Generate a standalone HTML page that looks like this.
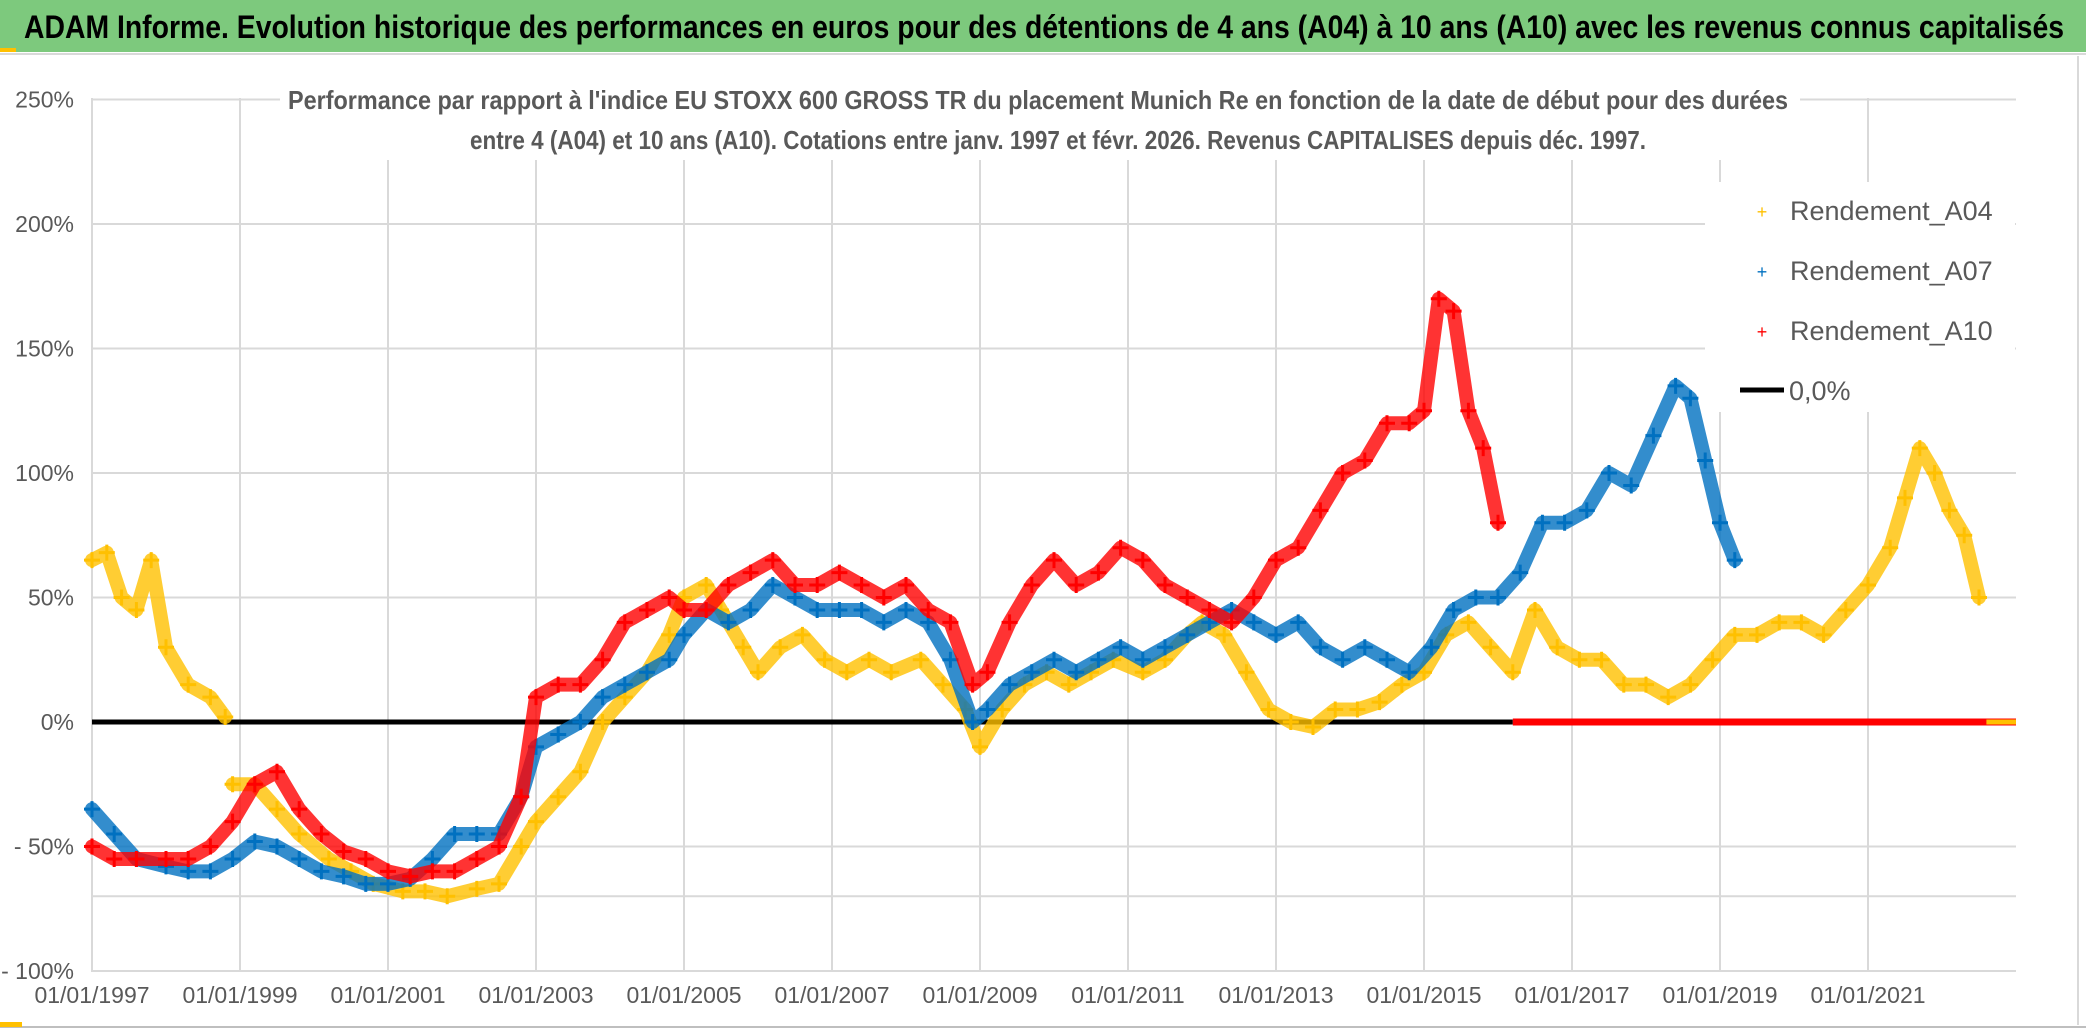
<!DOCTYPE html>
<html><head><meta charset="utf-8">
<style>
html,body{margin:0;padding:0;background:#fff;}
body{width:2086px;height:1031px;overflow:hidden;font-family:"Liberation Sans Narrow","Liberation Sans",sans-serif;}
</style></head>
<body>
<svg id="chart" width="2086" height="1031" xmlns="http://www.w3.org/2000/svg" style="position:absolute;left:0;top:0">
<rect x="0" y="0" width="2086" height="52" fill="#7dc97d"/>
<rect x="0" y="48" width="16" height="4" fill="#ffc000"/>
<line x1="0" y1="54" x2="2086" y2="54" stroke="#d9d9d9" stroke-width="2"/>
<text x="1044" y="38" text-anchor="middle" font-size="32" font-weight="bold" fill="#000" textLength="2040" lengthAdjust="spacingAndGlyphs">ADAM Informe. Evolution historique des performances en euros pour des détentions de 4 ans (A04) à 10 ans (A10) avec les revenus connus capitalisés</text>
<line x1="2078" y1="56" x2="2078" y2="1025" stroke="#d9d9d9" stroke-width="2"/>
<line x1="0" y1="1027" x2="2086" y2="1027" stroke="#bfbfbf" stroke-width="2"/>
<rect x="0" y="1022" width="22" height="5" fill="#ffc000"/>
<g id="grid"></g>
<g id="plot"></g>
<rect x="280" y="80" width="1520" height="80" fill="#fff"/>
<text x="1038" y="109" text-anchor="middle" font-size="26" font-weight="bold" fill="#595959" textLength="1500" lengthAdjust="spacingAndGlyphs">Performance par rapport à l'indice EU STOXX 600 GROSS TR  du placement Munich Re en fonction de la date de début pour des durées</text>
<text x="1058" y="149" text-anchor="middle" font-size="26" font-weight="bold" fill="#595959" textLength="1176" lengthAdjust="spacingAndGlyphs">entre 4 (A04) et 10 ans (A10). Cotations entre janv. 1997 et févr. 2026. Revenus CAPITALISES depuis déc. 1997.</text>
<g>
<rect x="1705" y="182" width="310" height="230" fill="#fff"/>
<g><text x="1762" y="218" text-anchor="middle" font-size="18" fill="#ffc000">+</text><text x="1790" y="220" font-size="27" fill="#595959">Rendement_A04</text></g>
<g><text x="1762" y="278" text-anchor="middle" font-size="18" fill="#0070c0">+</text><text x="1790" y="280" font-size="27" fill="#595959">Rendement_A07</text></g>
<g><text x="1762" y="338" text-anchor="middle" font-size="18" fill="#ff0000">+</text><text x="1790" y="340" font-size="27" fill="#595959">Rendement_A10</text></g>
<g><line x1="1740" y1="390" x2="1784" y2="390" stroke="#000" stroke-width="5"/><text x="1789" y="400" font-size="27" fill="#595959">0,0%</text></g>
</g>
</svg>
<script>
const yTicks=[250,200,150,100,50,0,-50,-100];
const yTickLabels=["250%","200%","150%","100%","50%","0%","- 50%","- 100%"];
const xTickYears=[1997,1999,2001,2003,2005,2007,2009,2011,2013,2015,2017,2019,2021];
const xTickLabels=["01/01/1997","01/01/1999","01/01/2001","01/01/2003","01/01/2005","01/01/2007","01/01/2009","01/01/2011","01/01/2013","01/01/2015","01/01/2017","01/01/2019","01/01/2021"];
const datesA04=[1997.0,1997.2,1997.4,1997.6,1997.8,1998.0,1998.3,1998.6,1998.8,1998.9,1999.2,1999.5,1999.8,2000.2,2000.5,2000.8,2001.2,2001.5,2001.8,2002.2,2002.5,2002.8,2003.0,2003.3,2003.6,2003.9,2004.2,2004.5,2004.8,2005.0,2005.3,2005.5,2005.8,2006.0,2006.3,2006.6,2006.9,2007.2,2007.5,2007.8,2008.2,2008.5,2008.8,2009.0,2009.3,2009.6,2009.9,2010.2,2010.5,2010.8,2011.2,2011.5,2011.8,2012.0,2012.3,2012.6,2012.9,2013.2,2013.5,2013.8,2014.1,2014.4,2014.7,2015.0,2015.3,2015.6,2015.9,2016.2,2016.5,2016.8,2017.1,2017.4,2017.7,2018.0,2018.3,2018.6,2018.9,2019.2,2019.5,2019.8,2020.1,2020.4,2020.7,2021.0,2021.3,2021.5,2021.7,2021.9,2022.1,2022.3,2022.5];
const valuesA04=[65,68,50,45,65,30,15,10,2,-25,-25,-35,-45,-55,-60,-65,-68,-68,-70,-67,-65,-50,-40,-30,-20,0,10,20,35,50,55,45,30,20,30,35,25,20,25,20,25,15,5,-10,5,15,20,15,20,25,20,25,35,40,35,20,5,0,-2,5,5,8,15,20,35,40,30,20,45,30,25,25,15,15,10,15,25,35,35,40,40,35,45,55,70,90,110,100,85,75,50];
const datesA07=[1997.0,1997.3,1997.6,1998.0,1998.3,1998.6,1998.9,1999.2,1999.5,1999.8,2000.1,2000.4,2000.7,2001.0,2001.3,2001.6,2001.9,2002.2,2002.5,2002.8,2003.0,2003.3,2003.6,2003.9,2004.2,2004.5,2004.8,2005.0,2005.3,2005.6,2005.9,2006.2,2006.5,2006.8,2007.1,2007.4,2007.7,2008.0,2008.3,2008.6,2008.9,2009.1,2009.4,2009.7,2010.0,2010.3,2010.6,2010.9,2011.2,2011.5,2011.8,2012.1,2012.4,2012.7,2013.0,2013.3,2013.6,2013.9,2014.2,2014.5,2014.8,2015.1,2015.4,2015.7,2016.0,2016.3,2016.6,2016.9,2017.2,2017.5,2017.8,2018.1,2018.4,2018.6,2018.8,2019.0,2019.2];
const valuesA07=[-35,-45,-55,-58,-60,-60,-55,-48,-50,-55,-60,-62,-65,-65,-63,-55,-45,-45,-45,-30,-10,-5,0,10,15,20,25,35,45,40,45,55,50,45,45,45,40,45,40,25,0,5,15,20,25,20,25,30,25,30,35,40,45,40,35,40,30,25,30,25,20,30,45,50,50,60,80,80,85,100,95,115,135,130,105,80,65];
const datesA10=[1997.0,1997.3,1997.6,1998.0,1998.3,1998.6,1998.9,1999.2,1999.5,1999.8,2000.1,2000.4,2000.7,2001.0,2001.3,2001.6,2001.9,2002.2,2002.5,2002.8,2003.0,2003.3,2003.6,2003.9,2004.2,2004.5,2004.8,2005.0,2005.3,2005.6,2005.9,2006.2,2006.5,2006.8,2007.1,2007.4,2007.7,2008.0,2008.3,2008.6,2008.9,2009.1,2009.4,2009.7,2010.0,2010.3,2010.6,2010.9,2011.2,2011.5,2011.8,2012.1,2012.4,2012.7,2013.0,2013.3,2013.6,2013.9,2014.2,2014.5,2014.8,2015.0,2015.2,2015.4,2015.6,2015.8,2016.0];
const valuesA10=[-50,-55,-55,-55,-55,-50,-40,-25,-20,-35,-45,-52,-55,-60,-62,-60,-60,-55,-50,-30,10,15,15,25,40,45,50,45,45,55,60,65,55,55,60,55,50,55,45,40,15,20,40,55,65,55,60,70,65,55,50,45,40,50,65,70,85,100,105,120,120,125,170,165,125,110,80];
const zeroA10Start=2016.2, zeroA04Start=2022.6, dataEnd=2023.0;

const X0=92, PX_PER_YEAR=74, Y0=722, PX_PER_PCT=2.49, PLOT_R=2016, PLOT_T=98, PLOT_B=972;
const xs=d=>X0+(d-1997)*PX_PER_YEAR;
const ys=v=>Y0-v*PX_PER_PCT;
const NS="http://www.w3.org/2000/svg";
const grid=document.getElementById('grid'), plot=document.getElementById('plot');
function mk(tag,attrs,parent){const e=document.createElementNS(NS,tag);for(const k in attrs)e.setAttribute(k,attrs[k]);parent.appendChild(e);return e;}
yTicks.forEach((t,i)=>{
  const l=mk('line',{x1:X0,x2:PLOT_R,y1:ys(t),y2:ys(t),stroke:'#d9d9d9','stroke-width':2},grid);
  
  
  const tx=mk('text',{x:74,y:ys(t)+8,'text-anchor':'end','font-size':23,fill:'#595959'},grid);
  tx.textContent=yTickLabels[i];
  
  
});
mk('line',{x1:X0,x2:PLOT_R,y1:ys(-70),y2:ys(-70),stroke:'#d9d9d9','stroke-width':2},grid);
xTickYears.forEach((yr,i)=>{
  const l=mk('line',{x1:xs(yr),x2:xs(yr),y1:PLOT_T,y2:PLOT_B,stroke:'#d9d9d9','stroke-width':2},grid);
  
  
  const tx=mk('text',{x:xs(yr),y:1003,'text-anchor':'middle','font-size':23,fill:'#595959'},grid);
  tx.textContent=xTickLabels[i];
  
  
});
mk('line',{x1:X0,x2:X0,y1:PLOT_T,y2:PLOT_B,stroke:'#d9d9d9','stroke-width':2},grid);
const zl=mk('line',{x1:X0,x2:xs(zeroA10Start),y1:Y0,y2:Y0,stroke:'#000','stroke-width':5},plot);


function series(dates,vals,color,name,gap){
  const g=mk('g',{},plot);
  
  
  let seg=[];const segs=[seg];
  dates.forEach((d,i)=>{if(gap!==undefined&&i>0&&d>=gap&&dates[i-1]<gap){seg=[];segs.push(seg);}seg.push(xs(d)+','+ys(vals[i]));});
  segs.forEach(s=>mk('polyline',{points:s.join(' '),fill:'none',stroke:color,'stroke-width':14,'stroke-linejoin':'round','stroke-linecap':'round',opacity:0.8},g));
  dates.forEach((d,i)=>{
    const x=xs(d),y=ys(vals[i]);
    const p=mk('path',{d:`M${x-8},${y}h16M${x},${y-8}v16`,stroke:color,'stroke-width':3},g);
    
    
  });
  return g;
}
series(datesA04,valuesA04,'#ffc000','series-a04',1998.85);
series(datesA07,valuesA07,'#0070c0','series-a07');
series(datesA10,valuesA10,'#ff0000','series-a10');
const z10=mk('line',{x1:xs(zeroA10Start),x2:xs(dataEnd),y1:Y0,y2:Y0,stroke:'#ff0000','stroke-width':7},plot);


const z04=mk('line',{x1:xs(zeroA04Start),x2:xs(dataEnd),y1:Y0,y2:Y0,stroke:'#ffc000','stroke-width':5},plot);


</script>
</body></html>
